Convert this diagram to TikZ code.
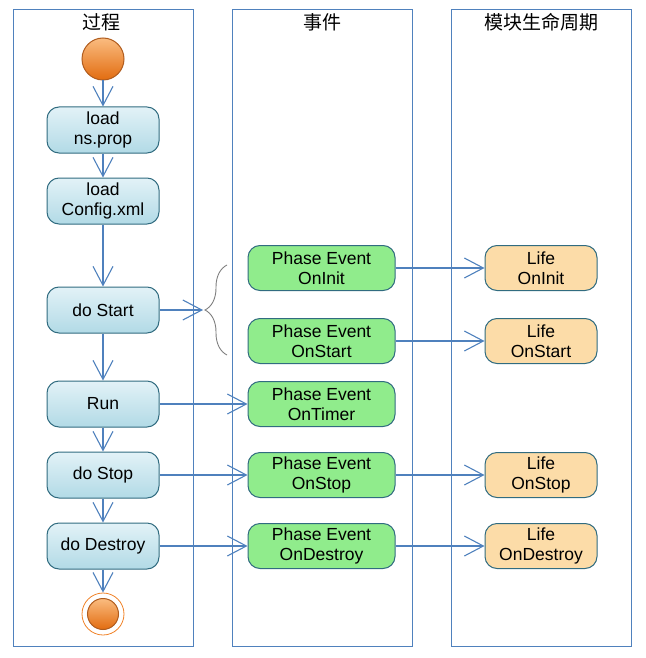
\documentclass[tikz,border=0pt]{standalone}
\usepackage{fontspec}
\setmainfont{Liberation Sans}
\newfontfamily\cjk{Noto Sans CJK SC}
\usetikzlibrary{calc,arrows.meta,decorations.pathreplacing}
\definecolor{laneblue}{RGB}{79,129,189}
\definecolor{boxedge}{RGB}{49,108,128}
\definecolor{proctop}{RGB}{226,242,247}
\definecolor{procbot}{RGB}{178,218,230}
\definecolor{evtgreen}{RGB}{144,236,140}
\definecolor{lifeorange}{RGB}{252,220,168}
\definecolor{balltop}{RGB}{250,188,128}
\definecolor{ballbot}{RGB}{226,108,16}
\definecolor{balledge}{RGB}{176,92,30}
\definecolor{ringorange}{RGB}{240,130,40}

\begin{document}
\begin{tikzpicture}[x=1pt, y=-1pt, line width=1pt,
	every node/.style={font=\fontsize{17.5}{20}\selectfont, align=center, inner sep=0pt},
	lane/.style={draw=laneblue, line width=0.9pt},
	title/.style={font=\cjk\fontsize{19}{22}\selectfont},
	proc/.style={draw=boxedge, rounded corners=12pt, top color=proctop, bottom color=procbot, minimum width=112pt, minimum height=46pt},
	evt/.style={draw=boxedge, rounded corners=12pt, fill=evtgreen, minimum width=147pt, minimum height=45pt},
	life/.style={draw=boxedge, rounded corners=12pt, fill=lifeorange, minimum width=112pt, minimum height=45pt},
	ball/.style={circle, draw=balledge, top color=balltop, bottom color=ballbot},
	flow/.style={draw=laneblue, line width=1.2pt, -{Straight Barb[length=19pt,width=20pt,line width=1.1pt]}}]
	\useasboundingbox (0,0) rectangle (645,658);
	
	\draw[lane] (13,9) rectangle (193,646);
	\draw[lane] (232,9) rectangle (412,646);
	\draw[lane] (451,9) rectangle (631,646);
	\node[title] (t1) at (101,22) {过程};
	\node[title] (t2) at (322,22) {事件};
	\node[title] (t3) at (541,22) {模块生命周期};
	
	\path
	(103,59) coordinate (S)
	(103,130) coordinate (A)
	(103,201) coordinate (B)
	(103,310) coordinate (C)
	(103,404) coordinate (D)
	(103,475) coordinate (E)
	(103,546) coordinate (F)
	(103,614) coordinate (G)
	(321.5,268) coordinate (P1)
	(321.5,341) coordinate (P2)
	(321.5,404) coordinate (P3)
	(321.5,475) coordinate (P4)
	(321.5,546) coordinate (P5)
	(541,268) coordinate (L1)
	(541,341) coordinate (L2)
	(541,475) coordinate (L4)
	(541,546) coordinate (L5)
	(203,310) coordinate (tip)
	;
	
	\node[ball, minimum size=42pt] (start) at (S) {};
	\node[proc] (nsprop) at (A) {load\\ns.prop};
	\node[proc] (config) at (B) {load\\Config.xml};
	\node[proc] (dostart) at (C) {do Start};
	\node[proc] (run) at (D) {Run};
	\node[proc] (dostop) at (E) {do Stop};
	\node[proc] (dodestroy) at (F) {do Destroy};
	\node[circle, draw=ringorange, line width=0.8pt, minimum size=42pt] (end) at (G) {};
	\node[ball, minimum size=31pt] (endin) at (G) {};
	
	\node[evt] (oninit) at (P1) {Phase Event\\OnInit};
	\node[evt] (onstart) at (P2) {Phase Event\\OnStart};
	\node[evt] (ontimer) at (P3) {Phase Event\\OnTimer};
	\node[evt] (onstop) at (P4) {Phase Event\\OnStop};
	\node[evt] (ondestroy) at (P5) {Phase Event\\OnDestroy};
	
	\node[life] (lifeinit) at (L1) {Life\\OnInit};
	\node[life] (lifestart) at (L2) {Life\\OnStart};
	\node[life] (lifestop) at (L4) {Life\\OnStop};
	\node[life] (lifedestroy) at (L5) {Life\\OnDestroy};
	
	\draw[flow] (start) -- (nsprop);
	\draw[flow] (nsprop) -- (config);
	\draw[flow] (config) -- (dostart);
	\draw[flow] (dostart) -- (run);
	\draw[flow] (run) -- (dostop);
	\draw[flow] (dostop) -- (dodestroy);
	\draw[flow] (dodestroy) -- (end);
	
	\draw[flow] (dostart) -- (tip);
	\draw[gray, line width=0.9pt, decorate, decoration={brace, amplitude=22pt}] (227,355) -- (227,265);
	
	\draw[flow] (run) -- (ontimer);
	\draw[flow] (dostop) -- (onstop);
	\draw[flow] (dodestroy) -- (ondestroy);
	
	\draw[flow] (oninit) -- (lifeinit);
	\draw[flow] (onstart) -- (lifestart);
	\draw[flow] (onstop) -- (lifestop);
	\draw[flow] (ondestroy) -- (lifedestroy);
\end{tikzpicture}
\end{document}
